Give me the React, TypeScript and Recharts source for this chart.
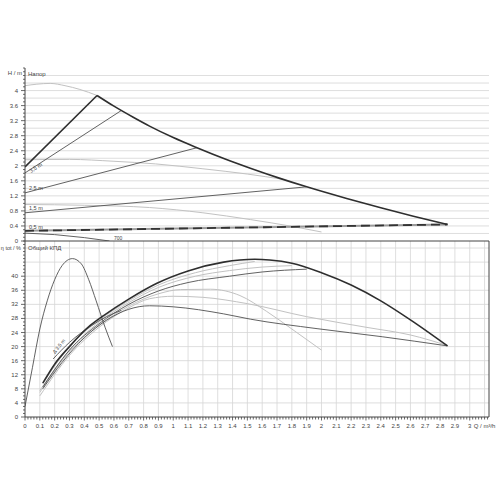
import React from 'react';
import { LineChart, Line, XAxis, YAxis, ReferenceLine } from 'recharts';

type Pt = [number, number];

// ---- head diagram: Q (m³/h), H (m) ----
const headMaxRise: Pt[] = [[0, 1.97], [0.486, 3.87]];
const headMaxFall: Pt[] = [[0.486, 3.87], [0.6, 3.585], [0.73, 3.29], [0.84, 3.055], [1.0, 2.75], [1.16, 2.48], [1.35, 2.18], [1.52, 1.935], [1.72, 1.665], [1.9, 1.44], [2.17, 1.13], [2.4, 0.884], [2.62, 0.66], [2.85, 0.44]];
const headUnlimited: Pt[] = [[0, 4.13], [0.08, 4.17], [0.17, 4.19], [0.27, 4.13], [0.37, 4.03], [0.486, 3.87]];
const headMid: Pt[] = [[0, 2.16], [0.3, 2.17], [0.6, 2.12], [0.88, 2.05], [1.2, 1.92], [1.5, 1.78], [1.74, 1.64]];
const headLow: Pt[] = [[0, 0.97], [0.4, 0.95], [0.84, 0.89], [1.2, 0.75], [1.52, 0.57], [1.8, 0.39], [2.0, 0.24]];
const head700: Pt[] = [[0, 0.21], [0.2, 0.17], [0.4, 0.09], [0.57, 0]];
const dp35: Pt[] = [[0, 1.81], [0.65, 3.47]];
const dp25: Pt[] = [[0, 1.28], [1.16, 2.48]];
const dp15: Pt[] = [[0, 0.75], [1.9, 1.44]];
const dp05: Pt[] = [[0, 0.27], [2.85, 0.44]];

// ---- efficiency diagram: Q (m³/h), eta (%) ----
const effHump: Pt[] = [[0, 3], [0.05, 14], [0.1, 25], [0.15, 33], [0.2, 39], [0.25, 43], [0.32, 45], [0.38, 43.5], [0.43, 39], [0.48, 33], [0.54, 25.5], [0.59, 20]];
const effMax: Pt[] = [[0.12, 9.6], [0.2, 15], [0.3, 20], [0.44, 26], [0.53, 28.8], [0.7, 33.5], [0.89, 38], [1.1, 41.5], [1.34, 44], [1.55, 44.8], [1.65, 44.6], [1.8, 43.7], [2.0, 41], [2.2, 37.5], [2.4, 33], [2.6, 27.6], [2.85, 20.2]];
const effA: Pt[] = [[0.12, 8.5], [0.3, 19], [0.5, 26.5], [0.7, 32], [0.9, 35.8], [1.1, 38.2], [1.38, 40], [1.6, 41.2], [1.9, 42]];
const effB: Pt[] = [[0.12, 9.5], [0.3, 20], [0.5, 27.5], [0.7, 33], [0.9, 37.5], [1.15, 41], [1.38, 43], [1.55, 44.2]];
const effC: Pt[] = [[0.1, 7.5], [0.3, 19], [0.5, 27], [0.7, 32.5], [0.9, 36.8], [1.15, 40], [1.38, 41.6], [1.6, 42.6], [1.8, 43]];
const effBell: Pt[] = [[0.1, 7], [0.3, 18.5], [0.5, 26], [0.7, 31.5], [0.9, 35], [1.05, 36.2], [1.25, 36.3], [1.45, 34.5], [1.63, 30], [1.8, 25], [2.0, 19]];
const effD: Pt[] = [[0.1, 6], [0.3, 17.5], [0.5, 25.5], [0.7, 31], [0.84, 33.6], [1.0, 34.3], [1.2, 34], [1.5, 32.2], [1.9, 28.5], [2.3, 25.5], [2.6, 23.3], [2.85, 20.3]];
const effE: Pt[] = [[0.12, 8], [0.25, 15.5], [0.4, 22.5], [0.55, 27.5], [0.7, 30.6], [0.84, 31.6], [1.0, 31.3], [1.34, 29.3], [1.52, 27.8], [1.97, 25.1], [2.41, 22.8], [2.85, 20.2]];
const effDp35: Pt[] = [[0.19, 16.5], [0.3, 21.2], [0.45, 26], [0.55, 28.5], [0.65, 30.3]];

// ---- axes ----
const qMax = 3.13;
const qLabels = [0, 0.1, 0.2, 0.3, 0.4, 0.5, 0.6, 0.7, 0.8, 0.9, 1, 1.1, 1.2, 1.3, 1.4, 1.5, 1.6, 1.7, 1.8, 1.9, 2, 2.1, 2.2, 2.3, 2.4, 2.5, 2.6, 2.7, 2.8, 2.9, 3];
const qGrid = [...qLabels.slice(1), 3.1];
const qMinor = Array.from({ length: 157 }, (_, i) => Math.round(i * 2) / 100);

const hMax = 4.6;
const hLabels = [0, 0.4, 0.8, 1.2, 1.6, 2, 2.4, 2.8, 3.2, 3.6, 4];
const hGrid = [0.2, 0.4, 0.6, 0.8, 1, 1.2, 1.4, 1.6, 1.8, 2, 2.2, 2.4, 2.6, 2.8, 3, 3.2, 3.4, 3.6, 3.8, 4, 4.2, 4.4];
const hMinor = Array.from({ length: 47 }, (_, i) => i / 10);

const etaMax = 50;
const etaLabels = [0, 4, 8, 12, 16, 20, 24, 28, 32, 36, 40];
const etaGrid = [4, 8, 12, 16, 20, 24, 28, 32, 36, 40, 44, 48];
const etaMinor = Array.from({ length: 51 }, (_, i) => i);

const FONT = 'Liberation Sans, Arial, sans-serif';
const AXIS = '#444';
const GRID = '#d6d6d6';
const DARK = '#505050';
const LIGHT = '#c2c2c2';

const rows = (pts: Pt[]) => pts.map(([q, v]) => ({ q, v }));
const near = (arr: number[], v: number) => arr.some((a) => Math.abs(a - v) < 1e-6);
const fmt = (v: number) => String(Math.round(v * 10) / 10);

const YTick = (labels: number[]) => (props: any) => {
  const { x, y, payload } = props;
  const v = payload.value;
  const major = near(labels, v);
  return (
    <g>
      <line x1={x} x2={x - (major ? 4 : 2)} y1={y} y2={y} stroke={AXIS} strokeWidth={0.8} />
      {major && (
        <text x={x - 7} y={y} dy={2} textAnchor="end" fontSize={6} fill="#444" fontFamily={FONT}>
          {fmt(v)}
        </text>
      )}
    </g>
  );
};

const QTick = (props: any) => {
  const { x, y, payload } = props;
  const v = payload.value;
  const major = near(qLabels, v);
  return (
    <g>
      <line x1={x} x2={x} y1={y} y2={y + (major ? 3.5 : 2.5)} stroke={AXIS} strokeWidth={0.8} />
      {major && (
        <text x={x} y={y + 11} textAnchor="middle" fontSize={6} fill="#444" fontFamily={FONT}>
          {fmt(v)}
        </text>
      )}
      {major && Math.abs(v - 3) < 1e-6 && (
        <text x={x + 4} y={y + 11} textAnchor="start" fontSize={6} fill="#444" fontFamily={FONT}>
          Q / m³/h
        </text>
      )}
    </g>
  );
};

const curve = (key: string, pts: Pt[], color: string, width: number, type: 'linear' | 'monotone' = 'monotone', dash?: string) => (
  <Line
    key={key}
    data={rows(pts)}
    dataKey="v"
    type={type}
    stroke={color}
    strokeWidth={width}
    strokeDasharray={dash}
    dot={false}
    activeDot={false}
    isAnimationActive={false}
  />
);

export default function App() {
  return (
    <div style={{ position: 'absolute', left: 0, top: 0, width: 500, height: 500, background: '#fff' }}>
      <div style={{ position: 'absolute', left: 0, top: 0 }}>
        <LineChart width={500} height={250} margin={{ top: 68, right: 11, bottom: 9, left: 0 }}>
          <XAxis dataKey="q" type="number" domain={[0, qMax]} allowDataOverflow hide />
          <YAxis
            type="number"
            domain={[0, hMax]}
            ticks={hMinor}
            interval={0}
            width={25}
            tickSize={0}
            tickMargin={0}
            tickLine={false}
            stroke={AXIS}
            tick={YTick(hLabels)}
            allowDataOverflow
          />
          {hGrid.map((h) => (
            <ReferenceLine key={'hg' + h} y={h} stroke={GRID} strokeWidth={0.8} />
          ))}
          {curve('hu', headUnlimited, LIGHT, 1)}
          {curve('hm', headMid, LIGHT, 1)}
          {curve('hl', headLow, LIGHT, 1)}
          {curve('h7', head700, DARK, 0.9, 'linear')}
          {curve('d35', dp35, DARK, 0.9, 'linear')}
          {curve('d25', dp25, DARK, 0.9, 'linear')}
          {curve('d15', dp15, DARK, 0.9, 'linear')}
          {curve('d05b', dp05, '#9a9a9a', 2, 'linear')}
          {curve('d05', dp05, '#333', 1.8, 'linear', '9 5')}
          {curve('hmaxr', headMaxRise, '#2e2e2e', 1.6, 'linear')}
          {curve('hmaxf', headMaxFall, '#2e2e2e', 1.6)}
        </LineChart>
      </div>
      <div style={{ position: 'absolute', left: 0, top: 233 }}>
        <LineChart width={500} height={214} margin={{ top: 8, right: 11, bottom: 0, left: 0 }}>
          <XAxis
            dataKey="q"
            type="number"
            domain={[0, qMax]}
            ticks={qMinor}
            interval={0}
            height={30}
            tickSize={0}
            tickMargin={0}
            tickLine={false}
            stroke={AXIS}
            tick={QTick}
            allowDataOverflow
          />
          <YAxis
            type="number"
            domain={[0, etaMax]}
            ticks={etaMinor}
            interval={0}
            width={25}
            tickSize={0}
            tickMargin={0}
            tickLine={false}
            stroke={AXIS}
            tick={YTick(etaLabels)}
            allowDataOverflow
          />
          {etaGrid.map((e) => (
            <ReferenceLine key={'eg' + e} y={e} stroke={GRID} strokeWidth={0.8} />
          ))}
          {qGrid.map((q) => (
            <ReferenceLine key={'qg' + q} x={q} stroke={GRID} strokeWidth={0.8} />
          ))}
          <ReferenceLine y={etaMax} stroke={AXIS} strokeWidth={1} />
          <ReferenceLine x={qMax} stroke={AXIS} strokeWidth={1} />
          {curve('eb', effB, LIGHT, 1)}
          {curve('ec', effC, LIGHT, 1)}
          {curve('ebell', effBell, LIGHT, 1)}
          {curve('ed', effD, LIGHT, 1)}
          {curve('ea', effA, DARK, 0.9)}
          {curve('ee', effE, DARK, 0.9)}
          {curve('edp', effDp35, DARK, 0.9)}
          {curve('eh', effHump, DARK, 0.9)}
          {curve('emax', effMax, '#2e2e2e', 1.6)}
        </LineChart>
      </div>
      <svg
        width={500}
        height={500}
        style={{ position: 'absolute', left: 0, top: 0, pointerEvents: 'none' }}
        fontFamily={FONT}
        fill="#444"
      >
        <text x={22} y={75} fontSize={6} textAnchor="end">H / m</text>
        <text x={28} y={76} fontSize={6}>Напор</text>
        <text x={21} y={250} fontSize={5.5} textAnchor="end">η tot / %</text>
        <text x={28} y={250} fontSize={6}>Общий КПД</text>
        <text x={31} y={173} fontSize={5.5} transform="rotate(-33 31 173)">3,5 m</text>
        <text x={29} y={190} fontSize={5.5}>2,5 m</text>
        <text x={29} y={210} fontSize={5.5}>1,5 m</text>
        <text x={29} y={229} fontSize={5.5}>0,5 m</text>
        <text x={114} y={240} fontSize={5}>700</text>
        <text x={55} y={354} fontSize={5} transform="rotate(-52 55 354)">Δ 3,5 m</text>
      </svg>
    </div>
  );
}
